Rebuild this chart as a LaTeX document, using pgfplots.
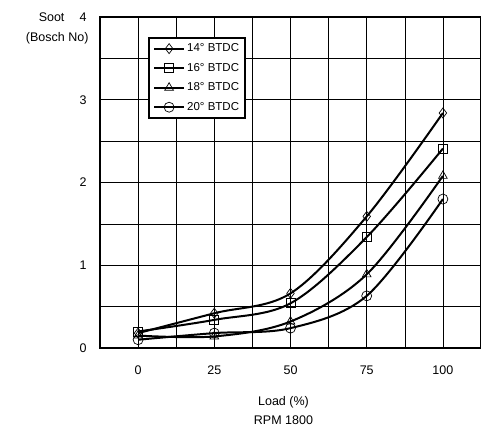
\documentclass[border=0pt]{standalone}
\usepackage{fontspec}
\setmainfont{Liberation Sans}
\usepackage{pgfplots}
\pgfplotsset{compat=1.18}
\usetikzlibrary{calc}

% values
\pgfplotstableread{
x  a14  a16  a18  a20
0   0.18 0.20 0.15 0.10
25  0.42 0.34 0.14 0.18
50  0.66 0.54 0.32 0.24
75  1.59 1.34 0.89 0.63
100 2.84 2.41 2.08 1.80
}\soot

\begin{document}
\begin{tikzpicture}
\begin{axis}[
    scale only axis,
    width=381pt, height=331pt,
    xmin=-12.5, xmax=112.5,
    ymin=0, ymax=4,
    xtick={0,25,50,75,100},
    minor xtick={-12.5,12.5,37.5,62.5,87.5},
    ytick={0,1,2,3,4},
    minor ytick={0.5,1.5,2.5,3.5},
    grid=both,
    major grid style={black, line width=0.6pt},
    minor grid style={black, line width=0.6pt},
    major tick length=0pt, minor tick length=0pt,
    tick label style={font=\fontsize{12.5}{14}\selectfont},
    /pgf/number format/assume math mode=true,
    xticklabel style={yshift=-14pt},
    yticklabel style={xshift=-10pt},
    xlabel={Load (\%)\\RPM 1800},
    xlabel style={align=center, font=\fontsize{12.5}{19}\selectfont, yshift=-15pt, xshift=-7pt},
    legend style={at={(0.126,0.94)}, anchor=north west, draw=black, line width=2pt,
        font=\fontsize{11.5}{13}\selectfont, row sep=6pt, inner sep=4pt, fill=white},
    legend cell align=left,
    legend image code/.code={
        \draw[line width=2.2pt, mark=none] (0pt,0pt) -- (30pt,0pt);
        \draw[line width=0.7pt, mark repeat=2, mark phase=2, draw=none] plot coordinates {(0pt,0pt) (15pt,0pt) (30pt,0pt)};
    },
    clip=false,
]
\addplot[black, line width=2pt, smooth, tension=0.55, mark=diamond, mark size=5pt,
    mark options={line width=0.7pt, solid, draw=black}] table[x=x, y=a14] {\soot};
\addplot[black, line width=2pt, smooth, tension=0.55, mark=square, mark size=4.5pt,
    mark options={line width=0.7pt, solid, draw=black}] table[x=x, y=a16] {\soot};
\addplot[black, line width=2pt, smooth, tension=0.55, mark=triangle, mark size=5pt,
    mark options={line width=0.7pt, solid, draw=black}] table[x=x, y=a18] {\soot};
\addplot[black, line width=2pt, smooth, tension=0.55, mark=o, mark size=5pt,
    mark options={line width=0.7pt, solid, draw=black}] table[x=x, y=a20] {\soot};
\legend{14° BTDC, 16° BTDC, 18° BTDC, 20° BTDC}
\draw[black, line width=2pt] (rel axis cs:0,0) rectangle (rel axis cs:1,1);
\node[anchor=east, font=\fontsize{12.5}{14}\selectfont, xshift=-32pt] at (rel axis cs:0,1) {Soot};
\node[anchor=east, font=\fontsize{12.5}{14}\selectfont, xshift=-8pt, yshift=-21pt] at (rel axis cs:0,1) {(Bosch No)};
\end{axis}
\pgfresetboundingbox
\path ($(current axis.south west)+(-100pt,-80pt)$) rectangle ($(current axis.north east)+(0pt,17pt)$);
\end{tikzpicture}
\end{document}
